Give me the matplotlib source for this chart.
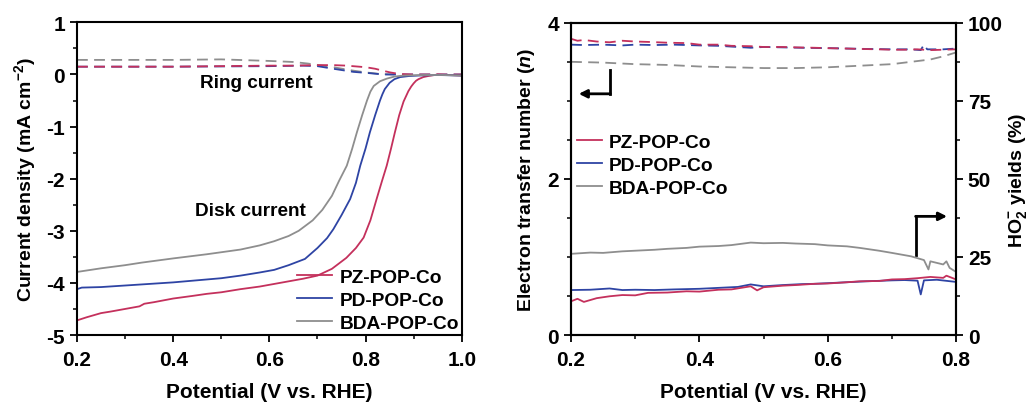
import matplotlib
matplotlib.use("Agg")
import matplotlib.pyplot as plt
from matplotlib.ticker import MultipleLocator

plt.rcParams['font.family'] = ['Liberation Sans', 'DejaVu Sans']
plt.rcParams['font.weight'] = 'bold'
plt.rcParams['mathtext.fontset'] = 'custom'
plt.rcParams['mathtext.rm'] = 'Liberation Sans:bold'
plt.rcParams['mathtext.it'] = 'Liberation Sans:bold:italic'
plt.rcParams['mathtext.bf'] = 'Liberation Sans:bold'
plt.rcParams['mathtext.default'] = 'rm'

# ---------------- data: left panel (LSV, disk & ring) ----------------
labels = ['PZ-POP-Co', 'PD-POP-Co', 'BDA-POP-Co']
colors = ['#C4305C', '#2E44A4', '#8E8E8E']

v_disk_pz = [0.20, 0.22, 0.25, 0.27, 0.30, 0.33, 0.34, 0.36, 0.40, 0.44, 0.47, 0.50, 0.54, 0.58,
             0.61, 0.64, 0.67, 0.70, 0.73, 0.76, 0.78, 0.796, 0.81, 0.823, 0.834, 0.844, 0.853,
             0.861, 0.87, 0.879, 0.885, 0.889, 0.895, 0.90, 0.905, 0.91, 0.92, 0.93, 0.95, 0.97, 1.0]
j_disk_pz = [-4.72, -4.66, -4.58, -4.55, -4.50, -4.45, -4.40, -4.37, -4.30, -4.25, -4.21, -4.18,
             -4.12, -4.07, -4.02, -3.97, -3.92, -3.86, -3.73, -3.52, -3.33, -3.13, -2.80, -2.39,
             -2.05, -1.75, -1.42, -1.11, -0.78, -0.52, -0.40, -0.32, -0.23, -0.17, -0.12, -0.09,
             -0.05, -0.03, 0.0, -0.01, -0.02]

v_disk_pd = [0.20, 0.21, 0.25, 0.30, 0.35, 0.40, 0.45, 0.50, 0.54, 0.58, 0.61, 0.64, 0.674, 0.70,
             0.72, 0.733, 0.75, 0.768, 0.78, 0.789, 0.80, 0.809, 0.82, 0.83, 0.835, 0.84, 0.85,
             0.86, 0.872, 0.89, 0.91, 0.95, 1.0]
j_disk_pd = [-4.12, -4.09, -4.08, -4.05, -4.02, -3.99, -3.95, -3.91, -3.86, -3.80, -3.75, -3.66,
             -3.54, -3.33, -3.14, -2.97, -2.70, -2.39, -2.08, -1.75, -1.42, -1.11, -0.78, -0.50,
             -0.38, -0.28, -0.16, -0.09, -0.05, -0.03, -0.02, -0.01, -0.02]

v_disk_bda = [0.20, 0.25, 0.30, 0.335, 0.40, 0.47, 0.54, 0.58, 0.61, 0.64, 0.661, 0.69, 0.71,
              0.73, 0.745, 0.761, 0.772, 0.782, 0.793, 0.803, 0.81, 0.817, 0.83, 0.844, 0.86,
              0.88, 0.92, 0.96, 1.0]
j_disk_bda = [-3.79, -3.72, -3.66, -3.61, -3.53, -3.45, -3.36, -3.28, -3.20, -3.10, -3.00, -2.80,
              -2.60, -2.33, -2.04, -1.75, -1.43, -1.11, -0.78, -0.50, -0.33, -0.22, -0.13, -0.08,
              -0.04, -0.02, -0.01, -0.01, -0.02]

v_ring_pz = [0.20, 0.30, 0.40, 0.50, 0.60, 0.65, 0.70, 0.733, 0.76, 0.80, 0.82, 0.837, 0.851,
             0.87, 0.90, 0.95, 1.0]
i_ring_pz = [0.15, 0.15, 0.15, 0.16, 0.17, 0.17, 0.18, 0.18, 0.17, 0.14, 0.11, 0.07, 0.04,
             0.01, 0.0, 0.0, 0.0]
v_ring_pd = [0.20, 0.40, 0.60, 0.67, 0.70, 0.733, 0.775, 0.803, 0.837, 0.90, 1.0]
i_ring_pd = [0.15, 0.15, 0.16, 0.17, 0.16, 0.11, 0.05, 0.03, 0.0, 0.0, 0.0]
v_ring_bda = [0.20, 0.30, 0.40, 0.50, 0.60, 0.65, 0.68, 0.733, 0.77, 0.80, 0.83, 0.86]
i_ring_bda = [0.28, 0.28, 0.28, 0.29, 0.26, 0.24, 0.21, 0.14, 0.08, 0.04, 0.01, 0.0]

# ---------------- data: right panel (n and HO2- yield) ----------------
v_n_pz = [0.20, 0.21, 0.22, 0.24, 0.26, 0.28, 0.30, 0.32, 0.35, 0.38, 0.40, 0.43, 0.45, 0.48,
          0.50, 0.53, 0.55, 0.58, 0.60, 0.63, 0.65, 0.68, 0.70, 0.72, 0.74, 0.76, 0.78, 0.80]
n_pz = [3.795, 3.77, 3.78, 3.76, 3.75, 3.77, 3.76, 3.755, 3.745, 3.74, 3.72, 3.72, 3.705, 3.70,
        3.69, 3.69, 3.685, 3.68, 3.675, 3.67, 3.665, 3.66, 3.655, 3.655, 3.66, 3.65, 3.655, 3.66]
v_n_pd = [0.20, 0.22, 0.25, 0.28, 0.30, 0.33, 0.36, 0.40, 0.43, 0.46, 0.48, 0.50, 0.53, 0.56,
          0.60, 0.63, 0.66, 0.70, 0.73, 0.745, 0.75, 0.755, 0.78, 0.80]
n_pd = [3.72, 3.715, 3.72, 3.71, 3.72, 3.715, 3.72, 3.71, 3.705, 3.69, 3.68, 3.69, 3.685, 3.68,
        3.675, 3.67, 3.665, 3.66, 3.66, 3.65, 3.72, 3.66, 3.66, 3.67]
v_n_bda = [0.20, 0.25, 0.30, 0.35, 0.40, 0.45, 0.50, 0.55, 0.60, 0.65, 0.70, 0.73, 0.76, 0.78, 0.80]
n_bda = [3.50, 3.49, 3.47, 3.46, 3.44, 3.43, 3.42, 3.42, 3.43, 3.45, 3.47, 3.50, 3.53, 3.57, 3.62]

v_y_pz = [0.20, 0.21, 0.22, 0.24, 0.26, 0.28, 0.30, 0.32, 0.35, 0.38, 0.40, 0.43, 0.45, 0.48,
          0.49, 0.50, 0.53, 0.55, 0.58, 0.60, 0.63, 0.65, 0.68, 0.70, 0.72, 0.74, 0.76, 0.78,
          0.785, 0.80]
y_pz = [10.8, 11.6, 10.6, 11.8, 12.4, 12.8, 12.7, 13.5, 13.6, 14.0, 13.9, 14.5, 14.6, 15.6,
        14.3, 15.3, 15.8, 16.0, 16.4, 16.5, 16.9, 17.2, 17.3, 17.8, 17.9, 18.2, 18.6, 18.3,
        19.0, 17.8]
v_y_pd = [0.20, 0.23, 0.26, 0.28, 0.30, 0.33, 0.36, 0.40, 0.43, 0.46, 0.48, 0.50, 0.53, 0.56,
          0.58, 0.60, 0.63, 0.66, 0.70, 0.72, 0.74, 0.745, 0.75, 0.77, 0.80]
y_pd = [14.4, 14.5, 14.9, 14.4, 14.5, 14.4, 14.6, 14.8, 15.1, 15.4, 16.2, 15.6, 16.0, 16.3,
        16.4, 16.6, 16.9, 17.2, 17.5, 17.6, 17.4, 13.0, 17.5, 17.7, 17.0]
v_y_bda = [0.20, 0.23, 0.25, 0.28, 0.30, 0.33, 0.35, 0.38, 0.40, 0.43, 0.45, 0.48, 0.50, 0.53,
           0.55, 0.58, 0.60, 0.63, 0.65, 0.68, 0.70, 0.73, 0.75, 0.757, 0.76, 0.78, 0.785, 0.79, 0.80]
y_bda = [26.0, 26.4, 26.3, 26.8, 27.0, 27.3, 27.6, 27.9, 28.3, 28.5, 28.8, 29.6, 29.4, 29.5,
         29.3, 29.1, 28.7, 28.4, 27.9, 27.0, 26.3, 25.2, 24.0, 21.0, 23.6, 22.6, 23.6, 21.5, 20.2]

# ---------------- figure ----------------
fig = plt.figure(figsize=(10.33, 4.06), dpi=100)
ax1 = fig.add_axes([0.0745, 0.1724, 0.3725, 0.770])
ax2 = fig.add_axes([0.5528, 0.1724, 0.3727, 0.769])
ax3 = ax2.twinx()

lw = 1.3
dash = (0, (6, 3.5))

# left panel
disk = [(v_disk_pz, j_disk_pz), (v_disk_pd, j_disk_pd), (v_disk_bda, j_disk_bda)]
ring = [(v_ring_pz, i_ring_pz), (v_ring_pd, i_ring_pd), (v_ring_bda, i_ring_bda)]
for (vr, ir), c in zip(ring[::-1], colors[::-1]):
    ax1.plot(vr, ir, color=c, lw=lw, ls=dash)
for (vd, jd), c, lab in zip(disk, colors, labels):
    ax1.plot(vd, jd, color=c, lw=lw, label=lab)

ax1.set_xlim(0.2, 1.0)
ax1.set_ylim(-5, 1)
ax1.set_xticks([0.2, 0.4, 0.6, 0.8, 1.0])
ax1.set_xticklabels(['0.2', '0.4', '0.6', '0.8', '1.0'])
ax1.xaxis.set_minor_locator(MultipleLocator(0.1))
ax1.set_yticks([1, 0, -1, -2, -3, -4, -5])
ax1.set_yticklabels(['1', '0', '-1', '-2', '-3', '-4', '-5'])
ax1.yaxis.set_minor_locator(MultipleLocator(0.5))
ax1.set_xlabel('Potential (V vs. RHE)', fontsize=15, fontweight='bold', labelpad=9)
ax1.set_ylabel('Current density (mA cm$^{-2}$)', fontsize=14, fontweight='bold', labelpad=6)
ax1.text(0.455, -0.15, 'Ring current', fontsize=13.7, fontweight='bold', va='center', ha='left')
ax1.text(0.445, -2.61, 'Disk current', fontsize=13.7, fontweight='bold', va='center', ha='left')
ax1.legend(loc='lower right', frameon=False, fontsize=13.8, handlelength=1.8, handletextpad=0.4,
           labelspacing=0.3, borderaxespad=0.05, borderpad=0.1)

# right panel
n_data = [(v_n_pz, n_pz), (v_n_pd, n_pd), (v_n_bda, n_bda)]
y_data = [(v_y_pz, y_pz), (v_y_pd, y_pd), (v_y_bda, y_bda)]
for (vn, nn), c in zip(n_data[::-1], colors[::-1]):
    ax2.plot(vn, nn, color=c, lw=lw, ls=dash)
lines = []
for (vy, yy), c, lab in zip(y_data[::-1], colors[::-1], labels[::-1]):
    ln, = ax3.plot(vy, yy, color=c, lw=lw, label=lab)
    lines.append(ln)
lines = lines[::-1]

ax2.set_xlim(0.2, 0.8)
ax2.set_ylim(0, 4)
ax3.set_ylim(0, 100)
ax2.set_xticks([0.2, 0.4, 0.6, 0.8])
ax2.set_xticklabels(['0.2', '0.4', '0.6', '0.8'])
ax2.xaxis.set_minor_locator(MultipleLocator(0.1))
ax2.set_yticks([0, 2, 4])
ax2.set_yticklabels(['0', '2', '4'])
ax2.yaxis.set_minor_locator(MultipleLocator(0.5))
ax3.set_yticks([0, 25, 50, 75, 100])
ax3.set_yticklabels(['0', '25', '50', '75', '100'])
ax3.yaxis.set_minor_locator(MultipleLocator(12.5))
ax2.set_xlabel('Potential (V vs. RHE)', fontsize=15, fontweight='bold', labelpad=9)
ax2.set_ylabel('Electron transfer number ($\\mathit{n}$)', fontsize=14, fontweight='bold', labelpad=8)
ax3.set_ylabel('HO$_2^{-}$ yields (%)', fontsize=14, fontweight='bold', labelpad=3)
ax2.legend(lines, labels, loc='upper left', bbox_to_anchor=(0.0, 0.665), frameon=False,
           fontsize=13.8, handlelength=1.3, handletextpad=0.35, labelspacing=0.3,
           borderaxespad=0.2, borderpad=0.1)

# arrows
ax2.plot([0.26, 0.26], [3.39, 3.09], color='black', lw=2)
ax2.annotate('', xy=(0.212, 3.09), xytext=(0.261, 3.09),
             arrowprops=dict(arrowstyle='-|>', color='black', lw=2, mutation_scale=12,
                             shrinkA=0, shrinkB=0))
ax2.plot([0.738, 0.738], [1.02, 1.52], color='black', lw=2)
ax2.annotate('', xy=(0.786, 1.52), xytext=(0.737, 1.52),
             arrowprops=dict(arrowstyle='-|>', color='black', lw=2, mutation_scale=12,
                             shrinkA=0, shrinkB=0))

for ax in (ax1, ax2, ax3):
    for s in ax.spines.values():
        s.set_linewidth(1.5)
    ax.tick_params(which='major', direction='out', length=5, width=1.3, labelsize=15)
    ax.tick_params(which='minor', direction='out', length=3, width=1.1)
    for t in ax.get_xticklabels() + ax.get_yticklabels():
        t.set_fontweight('bold')
ax1.tick_params(axis='x', pad=6)
ax2.tick_params(axis='x', pad=6)

fig.savefig('out.png', dpi=100)
